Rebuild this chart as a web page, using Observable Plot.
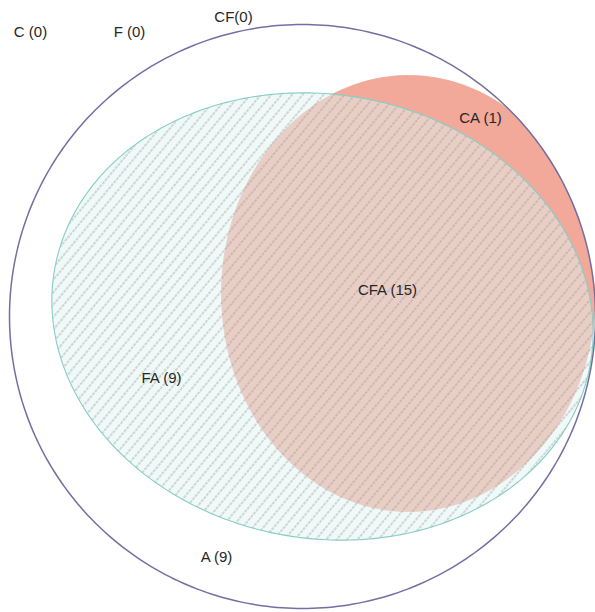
<!DOCTYPE html>
<html>
<head>
<meta charset="utf-8">
<script src="https://cdn.jsdelivr.net/npm/d3@7"></script>
<script src="https://cdn.jsdelivr.net/npm/@observablehq/plot@0.6"></script>
<style>
  html, body { margin: 0; padding: 0; background: #fff; }
</style>
</head>
<body>
<div id="chart"></div>
<script>
// Euler diagram shapes (ellipse parameters, in picture units)
const shapeNames = ["outer", "red", "teal"];
const shapeCx    = [302, 408, 322];
const shapeCy    = [316, 293, 316];
const shapeRx    = [293, 187, 272];
const shapeRy    = [292, 218, 222];
const shapeAngle = [0, 0, 10];

// Region labels
const labels = ["C (0)", "F (0)", "CF(0)", "CA (1)", "CFA (15)", "FA (9)", "A (9)"];
const labelX = [30, 129, 233, 480, 387, 161, 216];
const labelY = [32, 32, 17, 118, 290, 378, 557];

function outline(i, n = 360) {
  const a = shapeAngle[i] * Math.PI / 180, c = Math.cos(a), s = Math.sin(a);
  return d3.range(n).map(k => {
    const t = 2 * Math.PI * k / n;
    const u = shapeRx[i] * Math.cos(t), v = shapeRy[i] * Math.sin(t);
    return {x: shapeCx[i] + u * c - v * s, y: shapeCy[i] + u * s + v * c};
  });
}
function clipTo(pts, j) {
  return pts.map(p => {
    const dx = (p.x - shapeCx[j]) / shapeRx[j], dy = (p.y - shapeCy[j]) / shapeRy[j];
    const k = Math.hypot(dx, dy);
    return k > 1 ? {x: shapeCx[j] + (p.x - shapeCx[j]) / k, y: shapeCy[j] + (p.y - shapeCy[j]) / k} : p;
  });
}

const outerPts = outline(0);
const redPts = clipTo(outline(1), 0);
const tealPts = outline(2);

const plot = Plot.plot({
  width: 595,
  height: 612,
  margin: 0,
  x: {domain: [0, 595], range: [0, 595], axis: null},
  y: {domain: [0, 612], range: [0, 612], axis: null},
  style: {background: "#fff", fontFamily: "'Liberation Sans', Arial, sans-serif"},
  marks: [
    Plot.line(redPts, {x: "x", y: "y", curve: "linear-closed", fill: "#f2a999", stroke: "#eea494", strokeWidth: 0.8}),
    Plot.line(tealPts, {x: "x", y: "y", curve: "linear-closed", fill: "#dff3f2", fillOpacity: 0.5, stroke: "none"}),
    Plot.line(tealPts, {x: "x", y: "y", curve: "linear-closed", fill: "url(#hatch)", stroke: "#86cec5", strokeWidth: 1.1}),
    Plot.line(outerPts, {x: "x", y: "y", curve: "linear-closed", fill: "none", stroke: "#736fa3", strokeWidth: 1.5}),
    Plot.text(labels, {x: (d, i) => labelX[i], y: (d, i) => labelY[i], text: d => d, fontSize: 15, fill: "#262626"})
  ]
});

d3.select(plot).insert("defs", ":first-child").html(
  `<pattern id="hatch" patternUnits="userSpaceOnUse" width="8" height="8" patternTransform="rotate(40)">
     <line x1="4" y1="0" x2="4" y2="8" stroke="#949494" stroke-width="0.7" stroke-dasharray="3,1"/>
   </pattern>`
);

document.getElementById("chart").appendChild(plot);
</script>
</body>
</html>
